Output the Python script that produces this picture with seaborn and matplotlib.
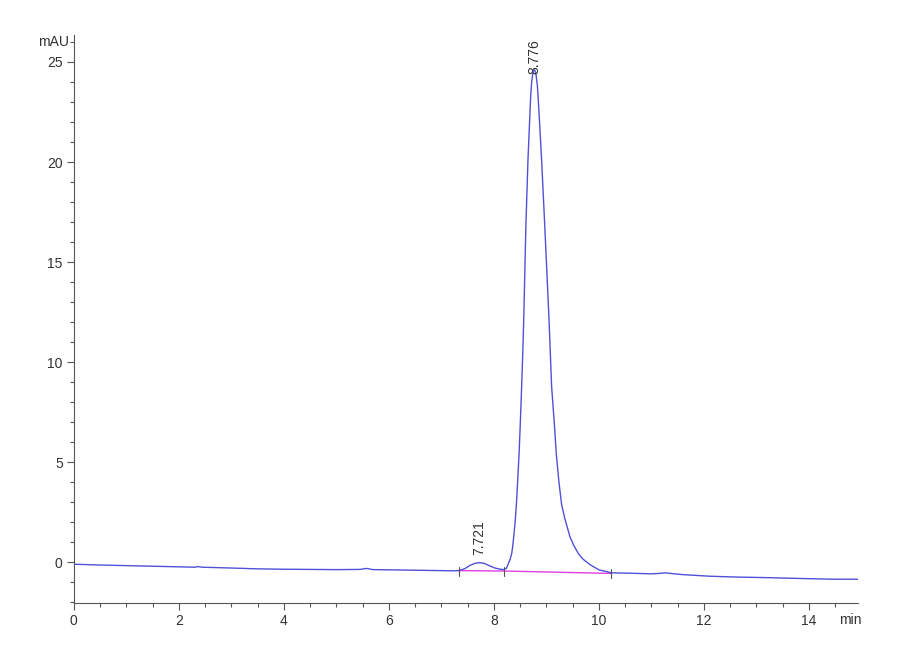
import numpy as np
import pandas as pd
import seaborn as sns
import matplotlib.pyplot as plt
from matplotlib.ticker import MultipleLocator

# retention time (min) and signal (mAU)
time_min = [0.0, 0.5, 1.0, 1.5, 2.0, 2.3, 2.36, 2.45, 3.0, 3.48, 4.0, 4.5, 5.0, 5.45, 5.57, 5.7,
            6.0, 6.5, 7.0, 7.22, 7.33, 7.45, 7.55, 7.65, 7.721, 7.82, 7.92, 8.02, 8.12, 8.19,
            8.24, 8.28, 8.31, 8.34, 8.36, 8.38, 8.405, 8.43, 8.455, 8.48, 8.505, 8.53, 8.55,
            8.57, 8.61, 8.65, 8.70, 8.72, 8.75, 8.776,
            8.80, 8.83, 8.86, 8.91, 8.97, 9.05, 9.10, 9.15, 9.19, 9.24, 9.29, 9.35, 9.45,
            9.52, 9.61, 9.70, 9.83, 10.0, 10.24,
            10.6, 11.0, 11.15, 11.26, 11.4, 11.6, 12.11, 12.6, 13.19, 13.8, 14.46, 14.93]
signal_mau = [-0.10, -0.14, -0.17, -0.20, -0.23, -0.25, -0.22, -0.25, -0.29, -0.33, -0.35, -0.36, -0.37, -0.36, -0.31, -0.37,
              -0.38, -0.40, -0.42, -0.43, -0.42, -0.32, -0.15, -0.05, -0.02, -0.06, -0.18, -0.29, -0.35, -0.37,
              -0.30, -0.05, 0.15, 0.43, 0.8, 1.3, 2.0, 2.9, 4.1, 5.4, 7.0, 8.8, 10.4,
              12.2, 16.8, 20.1, 23.2, 24.0, 24.55, 24.6,
              24.45, 23.8, 22.5, 20.1, 16.8, 12.2, 8.8, 7.0, 5.4, 4.0, 2.9, 2.2, 1.27,
              0.85, 0.43, 0.15, -0.12, -0.38, -0.53,
              -0.55, -0.58, -0.56, -0.53, -0.57, -0.62, -0.70, -0.74, -0.77, -0.81, -0.85, -0.85]

# integration baseline and peak delimiters
base_time = [7.33, 8.19, 10.24]
base_signal = [-0.42, -0.44, -0.56]

peak_rt = [7.721, 8.776]
peak_label = ['7.721', '8.776']

trace = pd.DataFrame({'time': time_min, 'signal': signal_mau})
baseline = pd.DataFrame({'time': base_time, 'signal': base_signal})

sns.set_style('ticks')
plt.rcParams['font.family'] = ['Liberation Sans', 'DejaVu Sans']

fig = plt.figure(figsize=(9, 6.6), dpi=100)
ax = fig.add_axes([0.082, 0.086, 0.871, 0.861])

sns.lineplot(data=baseline, x='time', y='signal', ax=ax, color='#e040e0', linewidth=1.0)
sns.lineplot(data=trace, x='time', y='signal', ax=ax, color='#5050d8', linewidth=1.0)

# peak start/end marks
for t, s in zip(base_time, base_signal):
    ax.plot([t, t], [s - 0.25, s + 0.2], color='#555555', linewidth=0.8)

ax.text(peak_rt[0], 0.35, peak_label[0], rotation=90, ha='center', va='bottom',
        fontsize=10, color='#333333')
ax.text(peak_rt[1], 24.4, peak_label[1], rotation=90, ha='center', va='bottom',
        fontsize=10, color='#333333')

ax.set_xlim(0, 14.93)
ax.set_ylim(-2.05, 26.35)
ax.xaxis.set_major_locator(MultipleLocator(2))
ax.xaxis.set_minor_locator(MultipleLocator(0.5))
ax.yaxis.set_major_locator(MultipleLocator(5))
ax.yaxis.set_minor_locator(MultipleLocator(1))
ax.tick_params(which='major', length=5, width=0.8, color='#555555', labelsize=10,
               labelcolor='#333333', pad=3)
ax.tick_params(which='minor', length=3, width=0.8, color='#555555')

sns.despine(ax=ax)
for side in ['left', 'bottom']:
    ax.spines[side].set_color('#555555')
    ax.spines[side].set_linewidth(0.8)

ax.set_xlabel('')
ax.set_ylabel('')
ax.text(-0.1, 26.0, 'mAU', ha='right', va='center', fontsize=10, color='#333333')
ax.text(14.78, -2.55, 'min', ha='center', va='top', fontsize=10, color='#333333')

fig.savefig('out.png', dpi=100)
